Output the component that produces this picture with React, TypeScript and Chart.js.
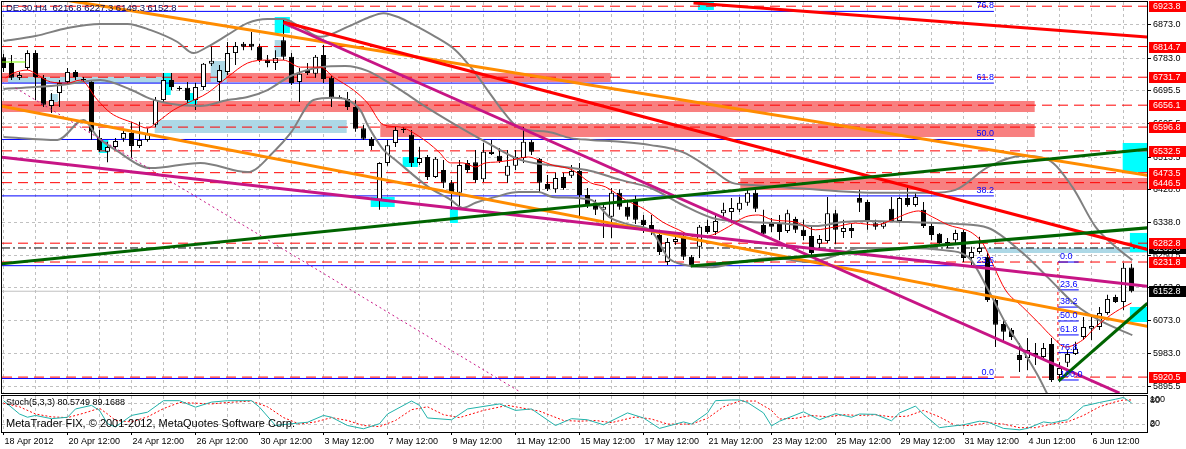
import React, { useEffect, useRef } from 'react';
import { Chart, registerables } from 'chart.js';

Chart.register(...registerables);

const FONT = '"Liberation Sans", Arial, sans-serif';

// ---------------- data ----------------
const opens = [
  6786, 6770, 6730, 6757, 6797, 6730, 6654, 6689, 6719, 6746,
  6727, 6719, 6567, 6530, 6543, 6565, 6581, 6546, 6562, 6603,
  6670, 6724, 6703, 6703, 6670, 6705, 6768, 6719, 6746, 6797,
  6822, 6822, 6814, 6778, 6770, 6832, 6787, 6719, 6751, 6741,
  6792, 6730, 6678, 6673, 6651, 6594, 6565, 6400, 6500, 6554,
  6589, 6576, 6500, 6516, 6462, 6481, 6446, 6419, 6500, 6502,
  6456, 6530, 6519, 6465, 6492, 6513, 6557, 6511, 6443, 6429,
  6462, 6465, 6478, 6413, 6392, 6373, 6354, 6419, 6381, 6402,
  6346, 6332, 6305, 6232, 6286, 6302, 6246, 6273, 6329, 6313,
  6364, 6367, 6373, 6392, 6419, 6332, 6340, 6335, 6316, 6348,
  6319, 6302, 6281, 6289, 6364, 6313, 6324, 6405, 6394, 6337,
  6327, 6376, 6343, 6405, 6386, 6373, 6329, 6308, 6286, 6291,
  6313, 6243, 6259, 6246, 6129, 6064, 6048, 5980, 5972, 5986,
  5975, 6010, 5926, 5959, 5983, 6029, 6051, 6056, 6094, 6137,
  6124, 6216.8,
];
const highs = [
  6795, 6792, 6746, 6805, 6805, 6738, 6689, 6724, 6757, 6751,
  6732, 6724, 6589, 6557, 6567, 6589, 6611, 6611, 6594, 6678,
  6743, 6743, 6708, 6719, 6716, 6770, 6814, 6765, 6827, 6827,
  6827, 6854, 6822, 6792, 6805, 6892, 6797, 6757, 6770, 6792,
  6819, 6735, 6683, 6692, 6670, 6603, 6570, 6502, 6562, 6597,
  6597, 6589, 6543, 6521, 6516, 6508, 6454, 6508, 6508, 6535,
  6554, 6562, 6540, 6535, 6535, 6597, 6562, 6513, 6467, 6473,
  6473, 6494, 6500, 6432, 6400, 6386, 6432, 6429, 6400, 6411,
  6359, 6359, 6319, 6297, 6305, 6313, 6251, 6332, 6346, 6364,
  6392, 6405, 6408, 6432, 6429, 6373, 6351, 6359, 6373, 6354,
  6346, 6329, 6305, 6408, 6373, 6346, 6337, 6427, 6400, 6346,
  6340, 6408, 6408, 6435, 6419, 6394, 6337, 6310, 6297, 6319,
  6319, 6273, 6300, 6256, 6137, 6075, 6053, 6013, 6026, 6013,
  6013, 6026, 5961, 5994, 6016, 6083, 6083, 6110, 6143, 6143,
  6229, 6227.3,
];
const lows = [
  6746, 6724, 6724, 6751, 6670, 6651, 6635, 6651, 6713, 6724,
  6719, 6562, 6530, 6502, 6535, 6557, 6513, 6540, 6557, 6597,
  6665, 6697, 6695, 6662, 6643, 6697, 6762, 6662, 6738, 6765,
  6805, 6805, 6773, 6759, 6751, 6778, 6711, 6665, 6738, 6730,
  6716, 6651, 6673, 6643, 6584, 6562, 6535, 6373, 6492, 6543,
  6581, 6489, 6494, 6454, 6459, 6432, 6373, 6381, 6473, 6446,
  6448, 6521, 6500, 6446, 6481, 6500, 6521, 6419, 6424, 6419,
  6427, 6459, 6351, 6378, 6359, 6297, 6297, 6373, 6346, 6335,
  6310, 6305, 6251, 6224, 6278, 6237, 6218, 6243, 6308, 6305,
  6351, 6337, 6367, 6384, 6367, 6305, 6313, 6291, 6310, 6310,
  6291, 6251, 6264, 6283, 6281, 6297, 6297, 6367, 6319, 6319,
  6322, 6340, 6337, 6381, 6381, 6324, 6291, 6281, 6270, 6283,
  6232, 6218, 6254, 6124, 6002, 6016, 6021, 5934, 5940, 5953,
  5967, 5907, 5907, 5948, 5980, 6021, 6021, 6048, 6089, 6121,
  6102, 6149.3,
];
const closes = [
  6757, 6730, 6738, 6797, 6732, 6657, 6670, 6716, 6746, 6732,
  6724, 6584, 6535, 6543, 6559, 6581, 6546, 6562, 6578, 6670,
  6724, 6705, 6700, 6670, 6705, 6768, 6776, 6751, 6797, 6816,
  6814, 6814, 6778, 6770, 6784, 6787, 6716, 6741, 6743, 6787,
  6727, 6676, 6675, 6651, 6592, 6565, 6546, 6500, 6548, 6589,
  6592, 6500, 6513, 6462, 6511, 6446, 6419, 6494, 6481, 6454,
  6530, 6524, 6505, 6492, 6516, 6557, 6530, 6446, 6429, 6459,
  6432, 6478, 6413, 6386, 6373, 6381, 6419, 6381, 6354, 6346,
  6332, 6313, 6259, 6286, 6294, 6246, 6224, 6327, 6313, 6343,
  6373, 6378, 6392, 6419, 6376, 6308, 6327, 6313, 6364, 6319,
  6302, 6256, 6294, 6364, 6319, 6324, 6316, 6392, 6340, 6327,
  6337, 6343, 6405, 6386, 6408, 6329, 6305, 6283, 6281, 6310,
  6243, 6259, 6270, 6129, 6062, 6043, 6029, 5967, 5994, 5978,
  5999, 5913, 5945, 5983, 5997, 6056, 6059, 6094, 6132, 6124,
  6216, 6152.8,
];

const timeLabels = [
  '18 Apr 2012', '20 Apr 12:00', '24 Apr 12:00', '26 Apr 12:00', '30 Apr 12:00',
  '3 May 12:00', '7 May 12:00', '9 May 12:00', '11 May 12:00', '15 May 12:00',
  '17 May 12:00', '21 May 12:00', '23 May 12:00', '25 May 12:00', '29 May 12:00',
  '31 May 12:00', '4 Jun 12:00', '6 Jun 12:00',
];
const priceTicks = [6873.0, 6783.0, 6695.5, 6605.5, 6513.5, 6428.0, 6338.0, 6250.5, 6163.0, 6073.0, 5983.0, 5895.5];
const levelLines = [6923.8, 6814.7, 6731.7, 6656.1, 6596.8, 6532.5, 6473.5, 6446.5, 6282.8, 6231.8, 5920.5];
const bidPrice = 6152.8;
const dashDotLevel = 6269.8;
const titleText = 'DE.30,H4  6216.8 6227.3 6149.3 6152.8';
const stochTitle = 'Stoch(5,3,3) 80.5749 89.1688';
const copyrightText = 'MetaTrader FIX, \u00A9 2001-2012, MetaQuotes Software Corp.';

// Bollinger bands & moving average, read at sample bars: [bar, price]
const bbUpper = [
  [0, 6830], [4, 6843], [8, 6865], [12.1, 6876], [15.5, 6876], [18.4, 6859], [21.75, 6827], [23.75, 6797],
  [25.5, 6814], [28, 6846], [30.5, 6878], [33, 6889], [35, 6889], [37.1, 6868], [39.6, 6841], [43, 6868],
  [45.5, 6892], [47.5, 6905], [49.6, 6892], [50.9, 6878], [54, 6841], [56.5, 6805], [58.4, 6759], [60.5, 6697],
  [62.6, 6635], [64.5, 6594], [68, 6584], [70.9, 6567], [73.4, 6562], [77.1, 6557], [80.9, 6548], [84.9, 6529],
  [88.6, 6481], [91.1, 6446], [93.6, 6440], [97.1, 6435], [104, 6424], [109, 6419], [115.9, 6419], [119, 6427],
  [123.1, 6489], [127.4, 6519], [130.6, 6508], [133.6, 6435], [136.5, 6327], [139, 6273], [141.1, 6237],
];
const bbMiddle = [
  [0, 6700], [4, 6705], [8, 6713], [12.1, 6724], [16, 6697], [18.4, 6673], [21.75, 6657], [24.6, 6654],
  [28, 6670], [30.5, 6678], [33, 6697], [35.9, 6735], [39.6, 6759], [42.75, 6762], [45.5, 6749], [48, 6719],
  [50, 6692], [52.4, 6657], [56.5, 6603], [60.5, 6554], [64.6, 6508], [69, 6492], [73.4, 6478], [77.1, 6454],
  [80.9, 6432], [84.9, 6386], [88.6, 6351], [93.4, 6340], [97.1, 6337], [101.5, 6329], [104.9, 6340], [108.1, 6343],
  [113.1, 6340], [119, 6335], [123.1, 6324], [127.4, 6256], [130.6, 6189], [134, 6116], [136.9, 6075], [141.1, 6034],
];
const bbLower = [
  [0, 6570], [6.75, 6562], [10, 6616], [11.75, 6570], [14, 6535], [18.4, 6486], [24.6, 6500], [30.5, 6475],
  [34, 6535], [35.9, 6581], [38.75, 6670], [41.25, 6676], [44.6, 6643], [45.5, 6603], [47.5, 6535], [49, 6508],
  [53.1, 6435], [55.9, 6400], [57.4, 6378], [59, 6392], [61.5, 6408], [64.4, 6421], [66.9, 6421], [68.6, 6408],
  [73.4, 6400], [75.9, 6351], [78.4, 6332], [81.1, 6313], [83.1, 6243], [85.25, 6224], [88.6, 6218], [91.9, 6232],
  [96.5, 6243], [100.6, 6232], [104.9, 6256], [106.9, 6270], [113.1, 6270], [117.4, 6264], [120.6, 6245], [123.1, 6156],
  [125.25, 6067], [127.4, 5994], [129.4, 5921], [130.9, 5859], [134, 5791], [137.1, 5805], [141.1, 5832],
];
const maLine = [
  [0.25, 6730], [1.25, 6743], [3, 6751], [4.25, 6738], [5.9, 6719], [8, 6716], [9.6, 6724], [11.75, 6670],
  [13.4, 6635], [16.25, 6608], [18, 6594], [19.25, 6611], [21.25, 6643], [23, 6662], [25.5, 6689], [28, 6732],
  [30.5, 6770], [33, 6778], [35, 6778], [37.1, 6759], [39.6, 6759], [41.25, 6732], [43.75, 6697], [45.5, 6662],
  [47.5, 6603], [49.6, 6597], [50.6, 6589], [53.1, 6554], [54.4, 6530], [55.9, 6500], [57.4, 6500], [59, 6489],
  [60.25, 6500], [61.5, 6502], [63.6, 6508], [65.6, 6516], [66.9, 6508], [68.6, 6494], [71.1, 6481], [73.4, 6446],
  [75.25, 6435], [77.75, 6400], [80.25, 6373], [82.4, 6340], [84.4, 6319], [86.5, 6300], [88.6, 6305], [90.6, 6327],
  [92.75, 6354], [94.4, 6359], [96.1, 6346], [99, 6340], [101.5, 6319], [104, 6327], [106.5, 6337], [109, 6332],
  [111.1, 6346], [113.1, 6364], [114.4, 6370], [116.1, 6354], [118.1, 6332], [120.25, 6319], [121.1, 6310], [122.4, 6283],
  [123.6, 6229], [125.25, 6156], [127.4, 6110], [129.4, 6067], [131.1, 6029], [132.75, 6002], [134.9, 6021], [136.5, 6056],
  [139, 6097], [141, 6121],
];

// Stochastic %K and %D: [bar, value]
const stochK = [
  [0, 87], [2, 50], [3, 41], [4, 46], [6, 37], [8, 41], [9, 64], [11, 74], [12, 60], [13, 23], [14, 14], [16, 46],
  [18, 55], [20, 87], [22, 87], [24, 69], [26, 83], [28, 87], [31, 87], [32, 69], [34, 18], [36, 23], [38, 27], [40, 46],
  [41, 41], [43, 18], [45, 9], [47, 23], [48, 50], [51, 86], [52, 74], [53, 39], [56, 34], [58, 64], [62, 78], [64, 60],
  [66, 64], [69, 18], [71, 37], [73, 34], [75, 20], [78, 53], [80, 39], [82, 10], [85, 28], [86, 22], [88, 53], [89, 87],
  [91, 89], [92, 89], [93, 82], [95, 53], [96, 17], [97, 30], [100, 56], [102, 34], [104, 51], [106, 41], [107, 50], [109, 49],
  [111, 31], [112, 53], [114, 72], [115, 49], [117, 12], [118, 15], [120, 20], [122, 30], [123, 28], [125, 10], [127, 6], [128, 10],
  [130, 28], [131, 25], [133, 34], [135, 72], [137, 82], [139, 91], [140, 96], [141, 81],
];
const stochD = [
  [0, 80], [2, 70], [4, 50], [6, 42], [8, 40], [10, 52], [12, 66], [13, 50], [14, 32], [16, 28], [18, 42], [20, 65],
  [22, 82], [24, 80], [26, 78], [28, 82], [31, 86], [33, 70], [35, 40], [37, 22], [39, 28], [41, 40], [43, 32], [45, 18],
  [47, 15], [49, 32], [51, 62], [53, 70], [55, 48], [57, 40], [60, 60], [63, 74], [65, 66], [67, 58], [70, 32], [72, 30],
  [74, 32], [76, 26], [79, 42], [81, 36], [83, 22], [86, 22], [88, 38], [90, 70], [92, 86], [94, 86], [96, 60], [97, 36],
  [99, 38], [101, 46], [103, 42], [105, 48], [107, 46], [109, 48], [111, 42], [113, 44], [115, 60], [117, 42], [119, 18], [121, 18],
  [123, 26], [125, 22], [127, 12], [129, 12], [131, 22], [133, 28], [135, 46], [137, 70], [139, 84], [140, 89], [141, 89],
];

// Trend lines: two anchors [bar, price]
const orangeUpper = [[0, 6967.5], [143, 6466.3]];
const orangeLower = [[-0.4, 6653.9], [143, 6057.8]];
const redMain = [[35, 6881.1], [143, 6265.7]];
const redTop = [[86.25, 6932.5], [143, 6840.1]];
const magentaSteep = [[35, 6878.4], [139.5, 5877.5]];
const magentaFlat = [[-0.4, 6515.9], [143, 6166.3]];
const magentaDotted = [[1.5, 6702.6], [64.6, 5880.2]];
const greenLong = [[-0.4, 6226.5], [143, 6537.0]];
const greenMid = [[85.9, 6221.1], [143, 6324.3]];
const greenShort = [[131.9, 5910.0], [143, 6120.3]];
const limeStub = [[-0.4, 6772.9], [2.75, 6772.9]];

// Fibonacci retracements
const bigFibLevels = [5916.8, 6221.9, 6410.7, 6563.3, 6715.8, 6909.8];
const bigFibLabels = ['0.0', '23.6', '38.2', '50.0', '61.8', '76.8'];
const bigFibEndBar = 123.8;
const smallFibLevels = [6231.8, 6156.5, 6109.9, 6072.3, 6034.6, 5986.7, 5912.7];
const smallFibLabels = ['0.0', '23.6', '38.2', '50.0', '61.8', '76.8', '100.0'];
const smallFibBars = [131.8, 134.4];

// Rectangles: [bar1, bar2, price1, price2]
const pinkZones = [
  [-0.44, 75.9, 6743.2, 6718.8], [-0.44, 128.9, 6667.4, 6637.6], [47.1, 128.9, 6605.2, 6570.0], [92.1, 143, 6459.1, 6426.7],
];
const lightBlueZones = [
  [0.56, 19.9, 6732.3, 6716.1], [18.9, 42.9, 6616.0, 6580.9], [25.9, 27.9, 6775.6, 6718.8], [33.9, 35.1, 6832.4, 6786.4],
  [5.8, 6.8, 6686.4, 6664.7], [122.9, 143, 6269.8, 6256.2],
];
const cyanZones = [
  [33.9, 35.8, 6894.6, 6851.3], [19.9, 20.9, 6743.2, 6683.6], [22.9, 24.2, 6689.0, 6659.3], [11.9, 13.1, 6561.9, 6526.8],
  [45.9, 48.9, 6407.7, 6380.7], [49.9, 51.8, 6515.9, 6488.9], [55.8, 56.8, 6380.7, 6337.4], [86.8, 88.8, 6935.2, 6913.6],
  [139.9, 143, 6553.8, 6475.3], [140.8, 143, 6310.4, 6259.0], [140.8, 143, 6110.2, 6069.6],
];

// ---------------- layout constants ----------------
const X_MIN = -0.1875;
const X_MAX = 142.9375;
const Y_MIN = 5877.5;
const Y_MAX = 6935.2;
const GRID = '#C0C0C0';
const gridBars = Array.from({ length: 36 }, (_, i) => i * 4);

const pts = (arr: number[][]) => arr.map(([x, y]) => ({ x, y }));

const lineDs = (data: any[], color: string, width: number, dash: number[] = [], extra: any = {}) => ({
  type: 'line',
  data,
  borderColor: color,
  borderWidth: width,
  borderDash: dash,
  pointRadius: 0,
  fill: false,
  tension: 0,
  clip: 0,
  ...extra,
});

const fillZones = (ctx: any, x: any, y: any, zones: number[][], color: string) => {
  ctx.fillStyle = color;
  zones.forEach(([b1, b2, p1, p2]) => {
    const xa = x.getPixelForValue(b1);
    const xb = x.getPixelForValue(b2);
    const ya = y.getPixelForValue(p1);
    const yb = y.getPixelForValue(p2);
    ctx.fillRect(Math.min(xa, xb), Math.min(ya, yb), Math.abs(xb - xa), Math.abs(yb - ya));
  });
};

const mainPlugin = {
  id: 'mt4Main',
  beforeDatasetsDraw(chart: any) {
    const { ctx, chartArea, scales } = chart;
    ctx.save();
    ctx.beginPath();
    ctx.rect(chartArea.left, chartArea.top, chartArea.width, chartArea.height);
    ctx.clip();
    fillZones(ctx, scales.x, scales.y, pinkZones, '#F88080');
    fillZones(ctx, scales.x, scales.y, lightBlueZones, '#ADD8E6');
    fillZones(ctx, scales.x, scales.y, cyanZones, '#00FFFF');
    ctx.restore();
  },
  afterDatasetsDraw(chart: any) {
    const { ctx, chartArea, scales } = chart;
    const { x, y } = scales;
    ctx.save();
    ctx.beginPath();
    ctx.rect(chartArea.left, chartArea.top, chartArea.width, chartArea.height);
    ctx.clip();
    ctx.font = '9px ' + FONT;
    ctx.fillStyle = '#0000FF';
    ctx.textBaseline = 'bottom';
    ctx.textAlign = 'right';
    bigFibLevels.forEach((lv, i) => {
      ctx.fillText(bigFibLabels[i], x.getPixelForValue(bigFibEndBar), y.getPixelForValue(lv) - 1);
    });
    ctx.textAlign = 'left';
    smallFibLevels.forEach((lv, i) => {
      ctx.fillText(smallFibLabels[i], x.getPixelForValue(smallFibBars[0]) + 2, y.getPixelForValue(lv) - 1);
    });
    ctx.fillStyle = '#0A0A50';
    ctx.font = '9.5px ' + FONT;
    ctx.textBaseline = 'middle';
    ctx.fillText(titleText, 6, 8);
    ctx.restore();
  },
  afterDraw(chart: any) {
    const { ctx, chartArea, scales } = chart;
    const y = scales.y;
    ctx.save();
    ctx.strokeStyle = '#000';
    ctx.lineWidth = 1;
    ctx.strokeRect(chartArea.left - 0.5, chartArea.top - 0.5, chartArea.width + 1, chartArea.height + 1);
    const label = (price: number, bg: string, fg: string) => {
      const py = Math.round(y.getPixelForValue(price));
      ctx.fillStyle = bg;
      ctx.fillRect(chartArea.right + 2, py - 5, 40, 11);
      ctx.fillStyle = fg;
      ctx.font = '9px ' + FONT;
      ctx.textAlign = 'left';
      ctx.textBaseline = 'middle';
      ctx.fillText(price.toFixed(1), chartArea.right + 6, py + 0.5);
    };
    label(dashDotLevel, '#000', '#fff');
    levelLines.forEach((lv) => label(lv, '#FF0000', '#fff'));
    label(bidPrice, '#000', '#fff');
    ctx.restore();
  },
};

const stochPlugin = {
  id: 'mt4Stoch',
  afterDraw(chart: any) {
    const { ctx, chartArea } = chart;
    ctx.save();
    ctx.strokeStyle = '#000';
    ctx.lineWidth = 1;
    ctx.strokeRect(chartArea.left - 0.5, chartArea.top - 0.5, chartArea.width + 1, chartArea.height + 1);
    ctx.fillStyle = '#000';
    ctx.textAlign = 'left';
    ctx.textBaseline = 'middle';
    ctx.font = '9px ' + FONT;
    ctx.fillText(stochTitle, 6, 9);
    ctx.font = '11px ' + FONT;
    ctx.fillText(copyrightText, 6, 29.5);
    ctx.font = '9px ' + FONT;
    const rx = chartArea.right + 3;
    ctx.fillText('100', rx, 6);
    ctx.fillText('80', rx, 7);
    ctx.fillText('20', rx, 30);
    ctx.fillText('0', rx, 31);
    ctx.restore();
  },
};

export default function App() {
  const mainRef = useRef<HTMLCanvasElement>(null);
  const stochRef = useRef<HTMLCanvasElement>(null);

  useEffect(() => {
    Chart.defaults.font.family = FONT;

    const datasets: any[] = [];
    bigFibLevels.forEach((lv) =>
      datasets.push(lineDs([{ x: X_MIN, y: lv }, { x: bigFibEndBar, y: lv }], '#0000FF', 1))
    );
    levelLines.forEach((lv) =>
      datasets.push(lineDs([{ x: X_MIN, y: lv }, { x: X_MAX, y: lv }], '#FF0000', 1, [10, 6]))
    );
    datasets.push(lineDs([{ x: X_MIN, y: dashDotLevel }, { x: X_MAX, y: dashDotLevel }], '#000000', 1, [8, 3, 2, 3]));
    datasets.push(lineDs([{ x: X_MIN, y: bidPrice }, { x: X_MAX, y: bidPrice }], '#C0C0C0', 1));
    smallFibLevels.forEach((lv) =>
      datasets.push(lineDs([{ x: smallFibBars[0], y: lv }, { x: smallFibBars[1], y: lv }], '#0000FF', 1))
    );
    datasets.push(
      lineDs(
        [{ x: smallFibBars[0], y: smallFibLevels[0] }, { x: smallFibBars[0], y: smallFibLevels[smallFibLevels.length - 1] }],
        '#FF0000', 1, [3, 3]
      )
    );
    // candles
    datasets.push({
      type: 'bar',
      data: lows.map((l, i) => ({ x: i, y: [l, highs[i]] })),
      backgroundColor: '#000000',
      borderWidth: 0,
      barThickness: 1,
      grouped: false,
      inflateAmount: 0,
    });
    datasets.push({
      type: 'bar',
      data: opens.map((o, i) => ({ x: i, y: [o, closes[i]] })),
      backgroundColor: opens.map((o, i) => (closes[i] >= o ? '#FFFFFF' : '#000000')),
      borderColor: '#000000',
      borderWidth: 1,
      borderSkipped: false,
      barThickness: 5,
      grouped: false,
      minBarLength: 1,
      inflateAmount: 0,
    });
    const smooth = { cubicInterpolationMode: 'monotone' };
    datasets.push(lineDs(pts(bbUpper), '#808080', 2, [], smooth));
    datasets.push(lineDs(pts(bbMiddle), '#808080', 2, [], smooth));
    datasets.push(lineDs(pts(bbLower), '#808080', 2, [], smooth));
    datasets.push(lineDs(pts(maLine), '#FF0000', 1, [], smooth));
    datasets.push(lineDs(pts(magentaDotted), '#C71585', 1, [2, 3]));
    datasets.push(lineDs(pts(orangeUpper), '#FF8C00', 3));
    datasets.push(lineDs(pts(orangeLower), '#FF8C00', 3));
    datasets.push(lineDs(pts(magentaFlat), '#C71585', 3));
    datasets.push(lineDs(pts(magentaSteep), '#C71585', 3));
    datasets.push(lineDs(pts(redMain), '#FF0000', 3));
    datasets.push(lineDs(pts(redTop), '#FF0000', 3));
    datasets.push(lineDs(pts(greenLong), '#006400', 3));
    datasets.push(lineDs(pts(greenMid), '#006400', 3));
    datasets.push(lineDs(pts(greenShort), '#006400', 3));
    datasets.push(lineDs(pts(limeStub), '#7CFC00', 1));
    datasets.forEach((d, i) => (d.order = 1000 - i));

    const main = new Chart(mainRef.current as HTMLCanvasElement, {
      type: 'line',
      data: { datasets },
      plugins: [mainPlugin],
      options: {
        responsive: false,
        animation: false,
        devicePixelRatio: 1,
        events: [],
        layout: { padding: { left: 2, top: 2, right: 0, bottom: 1 } },
        plugins: { legend: { display: false }, tooltip: { enabled: false } },
        scales: {
          x: {
            type: 'linear',
            min: X_MIN,
            max: X_MAX,
            offset: false,
            afterBuildTicks: (s: any) => {
              s.ticks = gridBars.map((v) => ({ value: v }));
            },
            afterFit: (s: any) => {
              s.height = 0;
              s.paddingLeft = 0;
              s.paddingRight = 0;
            },
            ticks: { display: false },
            grid: { color: GRID, drawTicks: false, offset: false },
            border: { display: false, dash: [3, 3] },
          },
          y: {
            type: 'linear',
            position: 'right',
            min: Y_MIN,
            max: Y_MAX,
            afterBuildTicks: (s: any) => {
              s.ticks = priceTicks.map((v) => ({ value: v }));
            },
            afterFit: (s: any) => {
              s.width = 39;
              s.paddingTop = 0;
              s.paddingBottom = 0;
            },
            ticks: {
              autoSkip: false,
              color: '#000',
              font: { size: 9 },
              padding: 2,
              callback: (v: any) => Number(v).toFixed(1),
            },
            grid: { color: GRID, tickColor: '#000', tickLength: 4, drawTicks: true },
            border: { display: false, dash: [3, 3] },
          },
        },
      } as any,
    } as any);

    const stoch = new Chart(stochRef.current as HTMLCanvasElement, {
      type: 'line',
      data: {
        datasets: [
          lineDs(pts(stochD), '#FF0000', 1, [2, 2], { order: 2 }),
          lineDs(pts(stochK), '#20B2AA', 1, [], { order: 1 }),
        ] as any,
      },
      plugins: [stochPlugin],
      options: {
        responsive: false,
        animation: false,
        devicePixelRatio: 1,
        events: [],
        layout: { padding: { left: 2, top: 2, right: 0, bottom: 0 } },
        plugins: { legend: { display: false }, tooltip: { enabled: false } },
        scales: {
          x: {
            type: 'linear',
            min: X_MIN,
            max: X_MAX,
            offset: false,
            afterBuildTicks: (s: any) => {
              s.ticks = gridBars.map((v) => ({ value: v }));
            },
            afterFit: (s: any) => {
              s.height = 17;
              s.paddingLeft = 0;
              s.paddingRight = 0;
            },
            ticks: {
              autoSkip: false,
              maxRotation: 0,
              minRotation: 0,
              align: 'start',
              labelOffset: 1,
              padding: 1,
              color: '#000',
              font: { size: 9 },
              callback: (v: any) => (v % 8 === 0 ? timeLabels[v / 8] || '' : ''),
            },
            grid: {
              color: GRID,
              tickLength: 3,
              tickColor: (c: any) => (c.tick && c.tick.value % 8 === 0 ? '#000' : 'rgba(0,0,0,0)'),
              offset: false,
            },
            border: { display: false, dash: [3, 3] },
          },
          y: {
            type: 'linear',
            position: 'right',
            min: 0,
            max: 100,
            afterBuildTicks: (s: any) => {
              s.ticks = [{ value: 20 }, { value: 80 }];
            },
            afterFit: (s: any) => {
              s.width = 39;
              s.paddingTop = 0;
              s.paddingBottom = 0;
            },
            ticks: { display: false },
            grid: { color: GRID, drawTicks: false },
            border: { display: false, dash: [3, 3] },
          },
        },
      } as any,
    } as any);

    return () => {
      main.destroy();
      stoch.destroy();
    };
  }, []);

  return (
    <div style={{ position: 'fixed', left: 0, top: 0, width: 1186, height: 449, background: '#FFFFFF', overflow: 'hidden' }}>
      <canvas
        ref={mainRef}
        width={1186}
        height={394}
        style={{ position: 'absolute', left: 0, top: 0, width: 1186, height: 394 }}
      />
      <canvas
        ref={stochRef}
        width={1186}
        height={55}
        style={{ position: 'absolute', left: 0, top: 394, width: 1186, height: 55 }}
      />
    </div>
  );
}
